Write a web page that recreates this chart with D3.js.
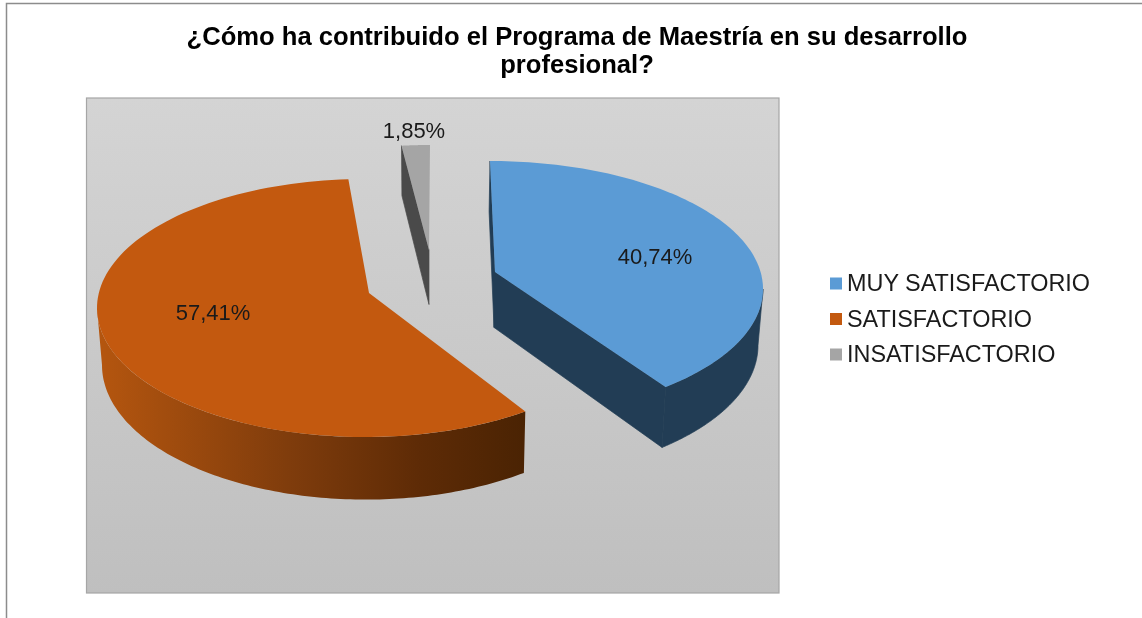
<!DOCTYPE html>
<html>
<head>
<meta charset="utf-8">
<script src="https://cdn.jsdelivr.net/npm/d3@7"></script>
<style>
  html, body { margin: 0; padding: 0; background: #fff; }
  svg { display: block; filter: blur(0.45px); }
  text { font-family: "Liberation Sans", Arial, sans-serif; }
</style>
</head>
<body>
<svg width="1142" height="618"></svg>
<script>
// data
const categories = ["MUY SATISFACTORIO", "SATISFACTORIO", "INSATISFACTORIO"];
const values = [40.74, 57.41, 1.85];
const valueLabels = ["40,74%", "57,41%", "1,85%"];
const titleLines = ["¿Cómo ha contribuido el Programa de Maestría en su desarrollo", "profesional?"];

// colours
const topColors = ["#5b9bd5", "#c3590f", "#a5a5a5"];
const sideColors = ["#223d55", "url(#orangeSide)", "#4a4a4a"];

// each exploded slice sits on its own projected ellipse
// (ex, ey, rx, ry = rim ellipse, ax, ay = tip of the slice, skew = rim angle correction in degrees)
const sliceShape = [
  { ex: 490, ey: 289, rx: 273, ry: 128, ax: 495, ay: 272, skew: [0, -6.7] },
  { ex: 365, ey: 308, rx: 268, ry: 129, ax: 369, ay: 293, skew: [-3.4, 3.1] },
  { ex: 430, ey: 273, rx: 270, ry: 128, ax: 429, ay: 250, skew: [0.6, 0] }
];
const labelPos = [[655, 264], [213, 320], [414, 138]];

const svg = d3.select("svg");
const defs = svg.append("defs");

// plot background
const bg = defs.append("linearGradient").attr("id", "plotBg")
  .attr("x1", 0).attr("y1", 0).attr("x2", 0).attr("y2", 1);
bg.append("stop").attr("offset", "0%").attr("stop-color", "#d4d4d4");
bg.append("stop").attr("offset", "100%").attr("stop-color", "#bfbfbf");

// orange wall goes darker to the right
const side = defs.append("linearGradient").attr("id", "orangeSide")
  .attr("gradientUnits", "userSpaceOnUse")
  .attr("x1", 97).attr("y1", 0).attr("x2", 526).attr("y2", 0);
[[0, "#b5560f"], [0.45, "#7f3c0c"], [0.75, "#5e2b06"], [1, "#4a2303"]].forEach(s => {
  side.append("stop").attr("offset", s[0]).attr("stop-color", s[1]);
});

// outer frame, open on the right and at the bottom
svg.append("path")
  .attr("d", "M6.5,618V3.5H1142")
  .attr("fill", "none").attr("stroke", "#8c8c8c").attr("stroke-width", 1.5);

svg.append("rect")
  .attr("x", 86.5).attr("y", 98).attr("width", 692.5).attr("height", 495)
  .attr("fill", "url(#plotBg)").attr("stroke", "#a6a6a6").attr("stroke-width", 1.2);

// title
svg.append("g").selectAll("text")
  .data(titleLines)
  .enter().append("text")
  .attr("x", 577)
  .attr("y", (d, i) => 45 + i * 28)
  .attr("text-anchor", "middle")
  .attr("font-size", 25.6)
  .attr("font-weight", "bold")
  .attr("fill", "#000")
  .text(d => d);

// PIE
const pie = d3.pie().sort(null).startAngle(0).endAngle(2 * Math.PI);
const arcs = pie(values);

// wall height and slight narrowing of the lower rim (perspective)
const depth = d3.scaleLinear().domain([145, 437]).range([50, 62.6]);
const narrow = d3.scaleLinear().domain([0, 1142]).range([430 * 0.015, 1142 * 0.985 + 430 * 0.015]);
const lower = p => [narrow(p[0]), p[1] + depth(p[1])];

const line = d3.line().curve(d3.curveLinearClosed);
const rad = d => d * Math.PI / 180;

function rimPoints(a, s, from, to) {
  // from, to in pie radians, rim angle is corrected linearly between the two ends
  const a0 = a.startAngle + rad(s.skew[0]);
  const a1 = a.endAngle + rad(s.skew[1]);
  const lo = Math.max(a0, from), hi = Math.min(a1, to);
  if (hi <= lo) return [];
  return d3.range(0, 121).map(i => {
    const t = lo + (hi - lo) * i / 120;
    return [s.ex + s.rx * Math.sin(t), s.ey - s.ry * Math.cos(t)];
  });
}

const slices = svg.append("g").selectAll("g")
  .data(arcs)
  .enter().append("g");

// rim wall, only the part facing the viewer
slices.append("path")
  .attr("fill", (d, i) => sideColors[i])
  .attr("stroke", (d, i) => i === 1 ? "none" : sideColors[i])
  .attr("stroke-width", 0.7)
  .attr("d", (d, i) => {
    const rim = rimPoints(d, sliceShape[i], rad(90), rad(270));
    return rim.length ? line(rim.concat(rim.map(lower).reverse())) : null;
  });

// cut faces that can be seen: blue both sides, grey the left one
slices.append("path")
  .attr("fill", (d, i) => sideColors[i])
  .attr("stroke", (d, i) => i === 1 ? "none" : sideColors[i])
  .attr("stroke-width", 0.7)
  .attr("d", (d, i) => {
    const s = sliceShape[i];
    if (i === 1) return null;
    const tip = [s.ax, s.ay];
    const rim = rimPoints(d, s, -1, 9);
    const ends = i === 0 ? [rim[0], rim[rim.length - 1]] : [rim[0]];
    return ends.map(p => line([p, tip, lower(tip), lower(p)])).join("");
  });

// top surface
slices.append("path")
  .attr("fill", (d, i) => topColors[i])
  .attr("d", (d, i) => {
    const s = sliceShape[i];
    return line([[s.ax, s.ay]].concat(rimPoints(d, s, -1, 9)));
  });

// value labels
svg.append("g").selectAll("text")
  .data(valueLabels)
  .enter().append("text")
  .attr("x", (d, i) => labelPos[i][0])
  .attr("y", (d, i) => labelPos[i][1])
  .attr("text-anchor", "middle")
  .attr("font-size", 22)
  .attr("fill", "#1a1a1a")
  .text(d => d);

// legend
const legendY = d3.scalePoint().domain(categories).range([291, 362]);
const legend = svg.append("g").selectAll("g")
  .data(categories)
  .enter().append("g");

legend.append("rect")
  .attr("x", 830).attr("width", 12).attr("height", 12)
  .attr("y", d => legendY(d) - 13.5)
  .attr("fill", (d, i) => topColors[i]);

legend.append("text")
  .attr("x", 847)
  .attr("y", d => legendY(d))
  .attr("font-size", 23.4)
  .attr("fill", "#1a1a1a")
  .text(d => d);
</script>
</body>
</html>
